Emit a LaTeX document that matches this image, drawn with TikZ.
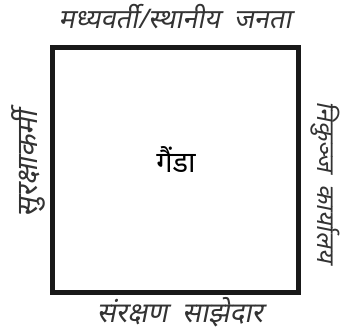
\documentclass[tikz,border=0pt]{standalone}
\usepackage{fontspec}
\newfontfamily\deva[Script=Devanagari,FakeSlant=0.2]{Noto Sans}
\newfontfamily\devab[Script=Devanagari]{Noto Sans}
\begin{document}
\begin{tikzpicture}[x=1pt,y=-1pt]
\tikzset{lbl/.style={font=\deva\fontsize{#1}{30}\selectfont, text=black!80, inner sep=0pt, anchor=base}}
\useasboundingbox (0,0) rectangle (344,329);
\node[draw=black!90, line width=5pt, minimum width=246pt, minimum height=245pt, inner sep=0pt] (box) at (175.5,170) {};
\node[font=\devab\bfseries\fontsize{29}{32}\selectfont, inner sep=0pt] (c) at (176,160) {गैंडा};
\node[lbl=27] (t) at (175,29) {मध्यवर्ती/स्थानीय\ \ जनता};
\node[lbl=28] (b) at (180,322) {संरक्षण\ \ साझेदार};
\node[lbl=29, rotate=90] (l) at (37,164) {सुरक्षाकर्मी};
\node[lbl=25, rotate=-90] (r) at (317,182) {निकुञ्ज\ \ कार्यालय};
\end{tikzpicture}
\end{document}
